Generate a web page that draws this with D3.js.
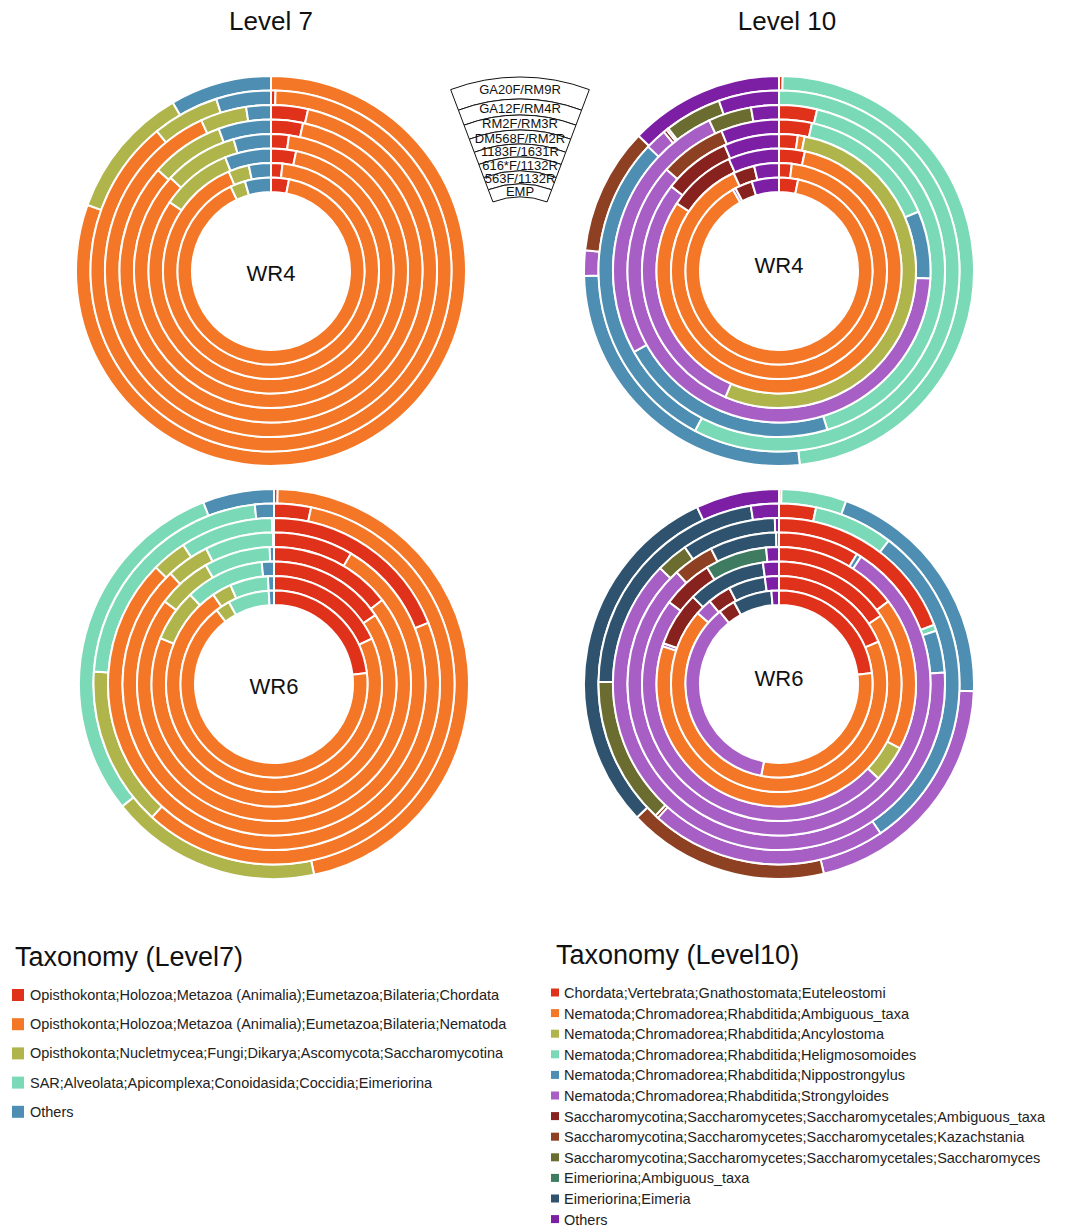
<!DOCTYPE html>
<html>
<head>
<meta charset="utf-8">
<script src="https://cdn.jsdelivr.net/npm/d3@7"></script>
<style>
  body { margin: 0; background: #fff; }
  svg text { font-family: "Liberation Sans", Arial, sans-serif; }
</style>
</head>
<body>
<svg class="d3"></svg>
<script>
const width = 1083
const height = 1230

// primer pairs, outer ring first
const primers = ['GA20F/RM9R', 'GA12F/RM4R', 'RM2F/RM3R', 'DM568F/RM2R', '1183F/1631R', '616*F/1132R', '563F/1132R', 'EMP']

const level7Taxa = [
    'Opisthokonta;Holozoa;Metazoa (Animalia);Eumetazoa;Bilateria;Chordata',
    'Opisthokonta;Holozoa;Metazoa (Animalia);Eumetazoa;Bilateria;Nematoda',
    'Opisthokonta;Nucletmycea;Fungi;Dikarya;Ascomycota;Saccharomycotina',
    'SAR;Alveolata;Apicomplexa;Conoidasida;Coccidia;Eimeriorina',
    'Others',
]
const level10Taxa = [
    'Chordata;Vertebrata;Gnathostomata;Euteleostomi',
    'Nematoda;Chromadorea;Rhabditida;Ambiguous_taxa',
    'Nematoda;Chromadorea;Rhabditida;Ancylostoma',
    'Nematoda;Chromadorea;Rhabditida;Heligmosomoides',
    'Nematoda;Chromadorea;Rhabditida;Nippostrongylus',
    'Nematoda;Chromadorea;Rhabditida;Strongyloides',
    'Saccharomycotina;Saccharomycetes;Saccharomycetales;Ambiguous_taxa',
    'Saccharomycotina;Saccharomycetes;Saccharomycetales;Kazachstania',
    'Saccharomycotina;Saccharomycetes;Saccharomycetales;Saccharomyces',
    'Eimeriorina;Ambiguous_taxa',
    'Eimeriorina;Eimeria',
    'Others',
]

const level7Colors = ['#e0321a', '#f37726', '#afb44b', '#7ad9b7', '#4e8eb2']
const level10Colors = ['#e0321a', '#f37726', '#afb44b', '#7ad9b7', '#4e8eb2', '#a75fc5',
    '#87221f', '#8e4022', '#6a6c30', '#3e7b60', '#2f536e', '#7d1fa5']

// relative abundance (%) per primer ring, columns follow the taxa lists
const wr4Level7 = [
    [0, 80.5, 11.1, 0, 8.4],
    [0.4, 88.7, 6.0, 0, 4.9],
    [3.6, 89.5, 4.5, 0, 2.4],
    [3.4, 83.2, 7.8, 0, 5.6],
    [2.1, 84.8, 8.7, 0, 4.4],
    [3.3, 81.2, 9.4, 0, 6.1],
    [1.7, 91.9, 3.1, 0, 3.3],
    [3.1, 89.8, 2.6, 0, 4.5],
]
const wr6Level7 = [
    [0.3, 46.4, 17.5, 29.9, 5.9],
    [3.3, 58.5, 14.3, 22.2, 1.7],
    [19.0, 68.4, 3.4, 9.0, 0.2],
    [8.5, 79.6, 4.6, 7.3, 0.1],
    [14.5, 70.8, 6.4, 7.8, 0.5],
    [15.5, 65.6, 6.9, 10.4, 1.6],
    [18.1, 72.4, 2.9, 5.7, 0.9],
    [23.1, 66.3, 2.5, 7.1, 0.9],
]
const wr4Level10 = [
    [0.3, 0, 0, 48.0, 26.3, 2.1, 0, 10.5, 0, 0, 0, 12.8],
    [0, 0, 0, 57.7, 29.4, 1.9, 0.3, 0.2, 5.1, 0, 0, 5.4],
    [3.7, 0, 0, 41.6, 21.6, 26.2, 0, 0, 4.2, 0, 0, 2.7],
    [3.5, 0, 0, 15.1, 7.2, 60.9, 0, 7.1, 0, 0, 0, 6.2],
    [2.2, 0.8, 53.4, 0, 0, 29.2, 7.9, 0, 0, 0, 0, 6.5],
    [3.4, 80.9, 0, 0, 0, 0, 9.0, 0, 0, 0, 0, 6.7],
    [1.9, 91.2, 0, 0, 0, 0, 3.2, 0, 0, 0, 0, 3.7],
    [3.3, 88.5, 0, 0, 0, 0.5, 3.0, 0, 0, 0, 0, 4.7],
]
const wr6Level10 = [
    [0.2, 0, 0, 5.4, 20.0, 20.7, 0, 16.7, 0, 0, 30.1, 6.9],
    [3.3, 0, 0, 7.1, 30.1, 21.2, 0, 0.3, 13.2, 0, 22.3, 2.5],
    [19.2, 0, 0, 0.6, 4.1, 63.4, 0, 0, 3.1, 0, 9.2, 0.4],
    [8.6, 0, 0, 0, 0.5, 79.1, 0, 4.4, 0, 0, 7.1, 0.3],
    [14.7, 18.1, 4.3, 0, 0, 48.1, 6.0, 0, 0, 7.3, 0, 1.5],
    [15.6, 64.4, 0, 0, 0, 0.4, 7.2, 0, 0, 0, 10.3, 2.1],
    [18.6, 67.8, 0, 0, 0, 2.5, 3.5, 0, 0, 0, 5.5, 2.1],
    [23.1, 29.9, 0, 0, 0, 36.0, 2.9, 0, 0, 0, 6.7, 1.3],
]

const svg = d3.select('svg.d3')
    .attr('width', width)
    .attr('height', height)
    .attr('viewBox', [0, 0, width, height])

const outerR = 195
const ringStep = 14.5

const pie = d3.pie().sort(null).value(d => d.v)

function donut(cx, cy, rows, colors, label, labelY) {
    const g = svg.append('g').attr('transform', `translate(${cx},${cy})`)
    rows.forEach((row, k) => {
        const ro = outerR - ringStep * k
        const arc = d3.arc().outerRadius(ro).innerRadius(ro - ringStep)
        const slices = pie(row.map((v, i) => ({ v, i }))).filter(d => d.data.v > 0)
        g.append('g')
            .selectAll('path')
            .data(slices)
            .join('path')
            .attr('d', arc)
            .attr('fill', d => colors[d.data.i])
            .attr('stroke', '#fff')
            .attr('stroke-width', 2)
    })
    g.append('text')
        .attr('x', 0)
        .attr('y', labelY)
        .attr('text-anchor', 'middle')
        .attr('dominant-baseline', 'central')
        .attr('font-size', 22)
        .attr('fill', '#111')
        .text(label)
}

donut(271, 271, wr4Level7, level7Colors, 'WR4', 2)
donut(779, 271, wr4Level10, level10Colors, 'WR4', -6)
donut(274, 684, wr6Level7, level7Colors, 'WR6', 2)
donut(779, 684, wr6Level10, level10Colors, 'WR6', -6)

svg.append('text').attr('x', 271).attr('y', 30).attr('text-anchor', 'middle')
    .attr('font-size', 26).attr('fill', '#111').text('Level 7')
svg.append('text').attr('x', 787).attr('y', 30).attr('text-anchor', 'middle')
    .attr('font-size', 26).attr('fill', '#111').text('Level 10')

// primer key, drawn as a wedge of rings
const keyRadii = [197, 175, 159, 144, 130, 117, 103, 90, 77]
const keyHalf = 20.6 * Math.PI / 180
const key = svg.append('g').attr('transform', 'translate(520,274)')
key.selectAll('path')
    .data(primers)
    .join('path')
    .attr('d', (d, i) => d3.arc()({
        outerRadius: keyRadii[i],
        innerRadius: keyRadii[i + 1],
        startAngle: -keyHalf,
        endAngle: keyHalf,
    }))
    .attr('fill', '#fff')
    .attr('stroke', '#111')
    .attr('stroke-width', 1)
key.selectAll('text')
    .data(primers)
    .join('text')
    .attr('x', 0)
    .attr('y', (d, i) => -(keyRadii[i] + keyRadii[i + 1]) / 2 + 1)
    .attr('text-anchor', 'middle')
    .attr('dominant-baseline', 'central')
    .attr('font-size', 13)
    .attr('fill', '#111')
    .text(d => d)

// legends
const leg7 = svg.append('g')
leg7.append('text').attr('x', 15).attr('y', 966).attr('font-size', 27).attr('fill', '#111')
    .text('Taxonomy (Level7)')
const leg7Items = leg7.selectAll('g.item')
    .data(level7Taxa)
    .join('g')
    .attr('class', 'item')
    .attr('transform', (d, i) => `translate(0,${995 + i * 29.2})`)
leg7Items.append('rect')
    .attr('x', 12).attr('y', -6).attr('width', 12).attr('height', 12)
    .attr('fill', (d, i) => level7Colors[i])
leg7Items.append('text')
    .attr('x', 30).attr('y', 0)
    .attr('dominant-baseline', 'central')
    .attr('font-size', 14.5)
    .attr('fill', '#222')
    .text(d => d)

const leg10 = svg.append('g')
leg10.append('text').attr('x', 556).attr('y', 964).attr('font-size', 27).attr('fill', '#111')
    .text('Taxonomy (Level10)')
const leg10Items = leg10.selectAll('g.item')
    .data(level10Taxa)
    .join('g')
    .attr('class', 'item')
    .attr('transform', (d, i) => `translate(0,${993 + i * 20.6})`)
leg10Items.append('rect')
    .attr('x', 551).attr('y', -4.5).attr('width', 8).attr('height', 8)
    .attr('fill', (d, i) => level10Colors[i])
leg10Items.append('text')
    .attr('x', 564).attr('y', 0)
    .attr('dominant-baseline', 'central')
    .attr('font-size', 14.5)
    .attr('fill', '#222')
    .text(d => d)
</script>
</body>
</html>
